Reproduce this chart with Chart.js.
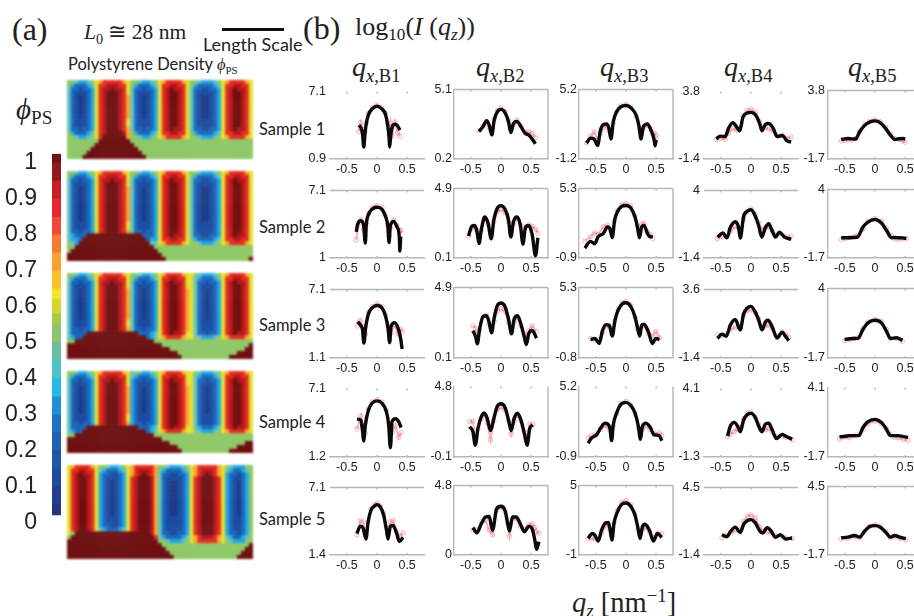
<!DOCTYPE html>
<html>
<head>
<meta charset="utf-8">
<script src="https://cdn.jsdelivr.net/npm/chart.js@4"></script>
<style>
html, body { margin: 0; background: #fff; }
#page { position: relative; width: 914px; height: 616px; overflow: hidden; background: #fff; color: #222; }
#page canvas { position: absolute; }
.txt { position: absolute; white-space: nowrap; line-height: 1; transform: translateY(-50%); }
.serif { font-family: "Liberation Serif", serif; }
.sans { font-family: Lato, sans-serif; }
.txt i { font-style: italic; }
.txt sub { font-size: 66%; vertical-align: -0.3em; line-height: 0; }
.txt sup { font-size: 66%; vertical-align: 0.5em; line-height: 0; }
#scalebar { position: absolute; left: 222px; top: 28px; width: 62px; height: 3px; background: #111; }
</style>
</head>
<body>
<div id="page">
  <div class="txt serif" style="left:12px;top:29px;font-size:32px">(a)</div>
  <div class="txt serif" style="left:84px;top:33px;font-size:21.5px"><i>L</i><sub>0</sub> ≅ 28 nm</div>
  <div id="scalebar"></div>
  <div class="txt sans" style="left:203px;top:44px;font-size:18px">Length Scale</div>
  <div class="txt serif" style="left:303px;top:28px;font-size:32px">(b)</div>
  <div class="txt serif" style="left:355px;top:27px;font-size:26px">log<sub>10</sub>(<i>I</i> (<i>q<sub>z</sub></i>))</div>
  <div class="txt sans" style="left:68px;top:65px;font-size:16.5px">Polystyrene Density <i class="serif">ϕ</i><sub class="serif">PS</sub></div>
  <div class="txt serif" style="left:16px;top:109px;font-size:29px"><i>ϕ</i><sub>PS</sub></div>
  <div class="txt serif" style="left:352px;top:67px;font-size:28px"><i>q<sub>x,</sub></i><sub>B1</sub></div>
  <div class="txt serif" style="left:476px;top:67px;font-size:28px"><i>q<sub>x,</sub></i><sub>B2</sub></div>
  <div class="txt serif" style="left:600px;top:67px;font-size:28px"><i>q<sub>x,</sub></i><sub>B3</sub></div>
  <div class="txt serif" style="left:724px;top:67px;font-size:28px"><i>q<sub>x,</sub></i><sub>B4</sub></div>
  <div class="txt serif" style="left:848px;top:67px;font-size:28px"><i>q<sub>x,</sub></i><sub>B5</sub></div>
  <div class="txt sans" style="left:259px;top:129px;font-size:16.5px">Sample 1</div>
  <div class="txt sans" style="left:259px;top:227px;font-size:16.5px">Sample 2</div>
  <div class="txt sans" style="left:259px;top:325px;font-size:16.5px">Sample 3</div>
  <div class="txt sans" style="left:259px;top:422px;font-size:16.5px">Sample 4</div>
  <div class="txt sans" style="left:259px;top:519px;font-size:16.5px">Sample 5</div>
  <div class="txt serif" style="left:572px;top:603px;font-size:28.5px"><i>q<sub>z</sub></i> [nm<sup>−1</sup>]</div>
</div>
<script>
// axis labels of the small panels, one row per sample
var yMaxLabels = [[7.1,5.1,5.2,3.8,3.8],[7.1,4.9,5.3,4,4],[7.1,4.9,5.3,3.6,4],[7.1,4.8,5.2,4.1,4.1],[7.1,4.8,5,4.5,4.5]];
var yMinLabels = [[0.9,0.2,-1.2,-1.4,-1.7],[1,0.1,-0.9,-1.4,-1.7],[1.1,0.1,-0.8,-1.4,-1.7],[1.2,-0.1,-0.9,-1.3,-1.7],[1.4,0,-1,-1.4,-1.7]];
var xTickLabels = [-0.5,0,0.5];
var colorbarTicks = [0,0.1,0.2,0.3,0.4,0.5,0.6,0.7,0.8,0.9,1];

// sample 1
var qzS1B1 = [-.30,-.27,-.24,-.22,-.20,-.18,-.14,-.08,0,.08,.14,.18,.20,.21,.225,.25,.30,.34,.38];
var fitS1B1 = [4.0,3.8,3.2,2.0,3.2,4.1,5.0,5.5,5.75,5.5,5.0,3.9,2.9,2.0,2.9,3.8,4.1,3.95,3.55];
var measS1B1 = [3.4,4.25,3.6,3.0,3.4,4.2,5.1,5.6,5.85,5.6,5.1,4.1,3.1,3.4,4.2,3.0,4.3,3.3,3.0];
var qzS1B2 = [-.365,-.298,-.24,-.197,-.152,-.112,-.062,0,.067,.124,.163,.208,.264,.33,.404,.46,.517,.573];
var fitS1B2 = [2.14,2.49,2.9,2.6,1.9,2.95,3.53,3.7,3.47,2.84,2.06,2.72,2.84,2.49,2.0,1.9,1.6,1.28];
var measS1B2 = [2.2,2.55,2.8,2.4,2.1,3.0,3.6,3.8,3.55,2.9,2.3,2.6,2.95,2.55,2.05,2.15,2.0,1.7];
var qzS1B3 = [-.656,-.589,-.528,-.472,-.422,-.367,-.322,-.283,-.25,-.211,-.156,-.089,0,.089,.167,.217,.25,.289,.356,.411,.467,.483,.5];
var fitS1B3 = [.26,.72,.63,.05,1.49,2.0,2.03,1.63,.63,2.24,3.15,3.61,3.73,3.47,2.85,1.79,.63,1.79,2.03,1.49,.57,.02,.57];
var measS1B3 = [.3,.9,1.3,.6,1.2,1.7,1.9,1.4,1.0,2.1,3.1,3.7,3.85,3.55,2.75,1.6,1.3,1.6,1.9,1.6,1.2,.9,1.0];
var qzS1B4 = [-.578,-.511,-.428,-.372,-.3,-.233,-.189,-.133,-.067,0,.072,.139,.183,.239,.294,.367,.433,.517,.6,.667];
var fitS1B4 = [.16,.36,.33,.98,1.4,1.03,.78,1.82,2.14,2.19,2.02,1.4,.78,1.27,1.33,.98,.33,.41,-.01,-.09];
var measS1B4 = [.1,.2,.1,.6,.95,.8,.9,1.9,2.35,2.45,2.2,1.5,1.0,1.0,.9,.75,.4,.45,.2,.3];
var qzS1B5 = [-.561,-.5,-.45,-.39,-.322,-.256,-.172,-.089,0,.089,.178,.256,.328,.4,.467,.5];
var fitS1B5 = [-.13,-.08,-.05,-.08,-.1,.47,1.0,1.26,1.36,1.21,.74,.21,-.13,-.07,-.05,-.1];
var measS1B5 = [-.25,-.2,-.15,-.2,-.05,.55,1.1,1.35,1.45,1.3,.85,.3,-.05,-.15,-.25,-.35];

// sample 2
var qzS2B1 = [-.344,-.32,-.267,-.222,-.194,-.178,-.14,-.083,0,.083,.14,.178,.2,.222,.278,.333,.372,.378,.394];
var fitS2B1 = [3.36,4.08,4.37,3.94,2.35,4.0,4.94,5.4,5.58,5.4,4.78,3.93,2.4,3.93,4.3,3.8,2.77,1.63,2.93];
var measS2B1 = [2.65,3.9,4.5,3.6,3.0,4.1,5.05,5.55,5.75,5.55,4.9,4.0,3.0,3.7,4.45,3.9,3.5,3.4,3.5];
var qzS2B2 = [-.539,-.483,-.438,-.4,-.365,-.326,-.27,-.213,-.163,-.118,-.062,0,.067,.124,.163,.208,.264,.32,.365,.404,.46,.517,.573,.612];
var fitS2B2 = [1.62,2.3,2.34,1.96,1.1,2.07,2.93,2.48,1.43,2.75,3.54,3.72,3.47,2.75,1.55,2.63,2.93,2.4,1.06,2.18,2.34,1.73,.26,1.5];
var measS2B2 = [1.6,2.15,2.25,2.0,1.5,2.0,2.85,2.4,1.8,2.6,3.3,3.45,3.25,2.6,1.8,2.5,2.85,2.4,1.5,2.25,2.4,2.3,2.1,1.8];
var qzS2B3 = [-.683,-.589,-.522,-.461,-.378,-.306,-.267,-.228,-.189,-.144,-.072,0,.078,.15,.189,.222,.261,.3,.356,.4,.444];
var fitS2B3 = [-.01,.58,.37,.99,1.28,1.88,1.73,.93,2.47,3.2,3.7,3.79,3.59,2.76,1.88,.9,1.88,2.0,1.28,.99,.99];
var measS2B3 = [.6,1.0,1.35,1.2,1.9,2.0,1.6,1.2,2.4,3.3,3.85,3.95,3.75,2.85,2.0,1.2,2.1,2.2,1.5,1.2,.85];
var qzS2B4 = [-.556,-.467,-.4,-.344,-.261,-.206,-.178,-.122,-.067,0,.072,.128,.178,.239,.294,.35,.406,.472,.556,.667];
var fitS2B4 = [.27,.6,.22,1.04,1.5,1.04,.19,1.94,2.33,2.46,1.94,1.17,.27,1.04,1.35,.79,.27,.66,.27,.09];
var measS2B4 = [.15,.3,.3,.7,1.1,1.0,.6,1.7,2.3,2.55,2.1,1.4,.9,1.0,1.1,.8,.45,.55,.35,.35];
var qzS2B5 = [-.561,-.49,-.422,-.35,-.283,-.2,-.117,0,.106,.189,.272,.33,.383,.45,.522];
var fitS2B5 = [-.01,-.01,-.01,0,.07,.88,1.29,1.5,1.21,.61,-.01,0,-.01,-.03,-.07];
var measS2B5 = [-.15,-.1,0,.1,.2,.7,1.35,1.6,1.35,.8,.15,-.1,-.15,-.1,-.1];

// sample 3
var qzS3B1 = [-.322,-.278,-.24,-.217,-.19,-.14,-.083,0,.083,.14,.183,.21,.233,.294,.35,.39,.417];
var fitS3B1 = [4.28,4.0,3.57,2.4,3.72,5.0,5.47,5.7,5.47,4.8,3.72,2.45,3.86,4.2,3.72,2.88,1.88];
var measS3B1 = [3.9,4.4,3.9,3.1,3.2,5.1,5.6,5.85,5.6,4.9,3.9,2.7,3.3,4.0,3.2,3.6,3.4];
var qzS3B2 = [-.466,-.42,-.393,-.354,-.298,-.24,-.197,-.157,-.112,-.062,0,.067,.124,.174,.219,.275,.33,.387,.42,.46,.517,.59];
var fitS3B2 = [1.97,1.52,1.07,2.08,2.92,2.98,2.53,1.81,2.87,3.66,3.84,3.6,2.76,1.75,2.76,2.98,2.42,1.52,1.02,1.75,1.97,1.45];
var measS3B2 = [2.3,2.1,1.6,2.0,2.95,3.0,2.4,2.0,2.6,3.3,3.45,3.25,2.5,2.0,2.55,2.85,2.3,1.7,1.6,1.95,2.3,1.9];
var qzS3B3 = [-.589,-.517,-.444,-.389,-.333,-.278,-.228,-.183,-.128,-.056,0,.078,.15,.194,.228,.261,.3,.372,.439,.494,.556];
var fitS3B3 = [.8,.89,.46,1.6,2.09,2.04,1.09,2.46,3.38,3.9,3.98,3.67,2.75,1.75,1.09,2.04,2.12,1.46,.46,.89,.8];
var measS3B3 = [.9,.75,.8,1.4,1.95,1.9,1.3,2.4,3.4,4.0,4.1,3.75,2.7,1.7,1.4,1.9,2.0,1.3,1.1,1.5,.95];
var qzS3B4 = [-.556,-.483,-.411,-.344,-.261,-.178,-.122,-.067,0,.072,.128,.183,.239,.283,.35,.433,.517,.572,.628];
var fitS3B4 = [.02,.34,.18,1.0,1.41,.65,1.83,2.23,2.37,1.95,1.36,.65,1.24,1.36,.89,.06,.49,.18,-.13];
var measS3B4 = [.3,.25,.35,.65,.85,.75,1.7,2.05,2.1,1.9,1.45,.85,.95,1.0,.75,.2,.5,.35,.1];
var qzS3B5 = [-.506,-.422,-.35,-.283,-.2,-.117,0,.106,.189,.256,.356,.456];
var fitS3B5 = [-.17,-.12,-.1,-.09,.64,1.18,1.39,1.18,.51,-.09,-.04,-.25];
var measS3B5 = [-.3,-.2,-.1,-.05,.7,1.25,1.5,1.3,.65,-.15,-.1,-.35];

// sample 4
var qzS4B1 = [-.333,-.267,-.24,-.222,-.194,-.14,-.083,0,.083,.155,.194,.222,.25,.305,.36,.4];
var fitS4B1 = [4.47,4.36,3.43,2.58,3.98,5.27,5.83,6.03,5.83,5.12,3.98,2.0,4.25,4.5,4.25,3.74];
var measS4B1 = [3.6,4.75,3.9,3.0,3.2,5.35,5.95,6.15,5.95,5.25,4.1,3.7,3.3,3.9,2.9,3.3];
var qzS4B2 = [-.522,-.466,-.427,-.382,-.326,-.28,-.23,-.174,-.118,-.062,0,.067,.124,.169,.219,.275,.33,.387,.433,.478,.528];
var fitS4B2 = [2.0,1.66,.72,1.9,2.71,2.94,2.6,1.73,2.6,3.42,3.6,3.35,2.48,1.73,2.6,2.94,2.48,1.54,.72,1.9,2.13];
var measS4B2 = [2.35,2.4,1.3,1.85,2.6,2.9,2.3,1.1,2.4,3.2,3.35,3.15,2.4,1.5,2.4,2.8,2.4,1.7,1.3,2.2,2.2];
var qzS4B3 = [-.628,-.572,-.489,-.422,-.35,-.306,-.267,-.239,-.211,-.156,-.089,0,.078,.15,.206,.239,.272,.328,.4,.467,.55,.594];
var fitS4B3 = [.29,.73,1.02,1.6,2.03,1.97,1.6,.52,1.89,2.91,3.63,3.83,3.57,2.91,1.74,.64,1.74,2.03,1.69,1.02,.96,.5];
var measS4B3 = [.75,.95,1.1,1.5,1.8,1.75,1.4,.9,1.8,2.85,3.7,3.9,3.6,2.8,1.6,1.0,1.5,1.8,1.5,1.15,1.2,.95];
var qzS4B4 = [-.389,-.344,-.278,-.222,-.178,-.122,-.056,0,.072,.128,.183,.239,.294,.35,.422,.517,.572,.683];
var fitS4B4 = [.36,1.12,1.43,1.12,.69,1.63,2.06,2.14,1.81,1.12,.69,1.3,1.37,.86,.15,.48,.36,.1];
var measS4B4 = [.3,.5,.7,.9,1.0,1.7,2.15,2.25,1.85,1.3,.8,.85,.95,.7,.3,.35,.25,.05];
var qzS4B5 = [-.589,-.5,-.422,-.34,-.267,-.2,-.117,0,.106,.189,.256,.32,.383,.47,.55];
var fitS4B5 = [-.01,.03,.08,.08,.08,.76,1.25,1.44,1.17,.62,.08,.08,.08,0,-.06];
var measS4B5 = [-.2,-.05,-.1,.05,.2,.6,1.1,1.3,1.1,.7,.2,-.05,-.1,-.25,-.3];

// sample 5
var qzS5B1 = [-.333,-.278,-.233,-.183,-.15,-.1,-.044,0,.055,.11,.155,.183,.222,.267,.322,.372,.433];
var fitS5B1 = [3.21,3.83,3.7,2.75,4.1,5.18,5.53,5.64,5.45,4.78,3.57,2.75,3.83,3.89,3.29,2.54,2.88];
var measS5B1 = [3.1,4.3,4.2,3.1,4.2,5.3,5.65,5.78,5.55,4.9,3.8,3.2,4.2,4.3,3.4,3.0,3.25];
var qzS5B2 = [-.466,-.4,-.326,-.258,-.197,-.14,-.073,0,.067,.107,.14,.191,.253,.32,.387,.46,.517,.562,.59,.63];
var fitS5B2 = [1.89,1.53,2.16,2.62,2.66,1.7,3.19,3.37,3.07,2.27,1.66,2.62,2.62,2.16,1.6,1.98,1.82,1.02,.39,.91];
var measS5B2 = [1.7,1.75,2.3,2.4,1.7,1.4,3.1,3.3,3.0,2.2,1.3,2.5,2.5,2.0,1.8,2.1,2.15,1.9,1.6,1.5];
var qzS5B3 = [-.628,-.561,-.517,-.461,-.406,-.339,-.294,-.267,-.233,-.2,-.144,-.072,0,.078,.15,.2,.233,.272,.317,.389,.456,.522,.594];
var fitS5B3 = [.43,.86,.72,.2,1.14,1.77,1.8,1.28,.28,1.71,2.71,3.37,3.49,3.2,2.43,1.28,.43,1.43,1.66,1.14,.2,.86,.51];
var measS5B3 = [.4,.45,.4,.45,.9,1.5,1.65,1.2,.7,1.8,2.85,3.55,3.7,3.35,2.5,1.2,.8,1.2,1.4,1.0,.5,.9,.85];
var qzS5B4 = [-.483,-.4,-.333,-.261,-.178,-.122,-.056,0,.072,.144,.194,.267,.333,.406,.489,.572,.683];
var fitS5B4 = [.37,.2,.71,1.04,.57,1.27,1.61,1.69,1.41,.71,.51,.99,.71,.15,.37,0,.09];
var measS5B4 = [.1,.35,.55,.7,.8,1.55,2.0,2.1,1.85,1.05,.7,.6,.5,.3,.3,.1,.05];
var qzS5B5 = [-.561,-.45,-.339,-.256,-.172,-.089,0,.089,.178,.256,.328,.411,.511];
var fitS5B5 = [-.14,-.08,.07,-.08,.46,.87,.96,.81,.37,-.08,.07,-.08,-.22];
var measS5B5 = [-.25,-.2,-.05,-.15,.4,.9,1.05,.9,.4,-.15,-.05,-.2,-.35];

// density maps: one digit per cell, digit/10 = phi_PS, a = 1.0. Repeat counts give how many rows a string covers.
var mapRows1 = [
"5543345"+"678888876"+"5543345"+"67888876"+"55433345"+"67888876",
"5322234"+"688999886"+"5322234"+"68899886"+"53222234"+"68899886",
"4221223"+"6899a9986"+"4221223"+"689a9986"+"42211223"+"689a9986",
"4211123"+"689aaa986"+"4211123"+"689aa986"+"42111123"+"689aa986",
"4210123"+"689aaa987"+"4210123"+"689aa986"+"42100123"+"689aa986",
"4211123"+"689aaa986"+"4211123"+"689aa986"+"42111123"+"689aa986",
"4221223"+"689aaa987"+"4221223"+"689a9986"+"42211223"+"689a9986",
"5322234"+"689aaaa97"+"5322234"+"68899886"+"53222234"+"68899886",
"5543345"+"68aaaaaa7"+"5543345"+"67888876"+"55433345"+"67888876",
"55555555aaaaaaaa5555555555555555555555555555555",
"5555555aaaaaaaaaa555555555555555555555555555555",
"555555aaaaaaaaaaaa55555555555555555555555555555",
"55555aaaaaaaaaaaaaa5555555555555555555555555555",
"5555aaaaaaaaaaaaaaaa555555555555555555555555555"];
var mapRepeat1 = [1,1,1,1,6,2,1,1,1,1,1,1,1,1];

var mapRows2 = [
"5543345"+"678888876"+"5543345"+"67888876"+"55433345"+"67888876",
"5322234"+"688999886"+"5322234"+"68899886"+"53222234"+"68899886",
"4221223"+"6899a9986"+"4221223"+"689a9986"+"42211223"+"689a9986",
"4211123"+"689aaa986"+"4211123"+"689aa986"+"42111123"+"689aa986",
"4210123"+"689aaa987"+"4210123"+"689aa986"+"42100123"+"689aa986",
"4211123"+"689aaa986"+"4211123"+"689aa986"+"42111123"+"689aa986",
"4221223"+"689aaa987"+"4221223"+"689aa986"+"42111123"+"689aa986",
"43222aa"+"aaaaaaaaa"+"aaa2223"+"689a9986"+"42211223"+"689a9986",
"4332aaa"+"aaaaaaaaa"+"aaaa233"+"68899886"+"53222234"+"68899886",
"543aaaa"+"aaaaaaaaa"+"aaaaa44"+"67888876"+"55433345"+"67888876",
"55aaaaaaaaaaaaaaaaaaaa5555555555555555555555555",
"5aaaaaaaaaaaaaaaaaaaaaa555555555555555555555555",
"aaaaaaaaaaaaaaaaaaaaaaaa55555555555555555555555",
"aaaaaaaaaaaaaaaaaaaaaaaaa555555555555555555555a"];
var mapRepeat2 = [1,1,1,1,9,2,1,1,1,1,1,1,1,1];

var mapRows3 = [
"5543345"+"678888876"+"5543345"+"67888876"+"65433345"+"67888876",
"5322234"+"688999886"+"5322234"+"68899886"+"64322234"+"68899886",
"4221223"+"6899a9986"+"4221223"+"689a9986"+"64221223"+"689a9986",
"4211123"+"689aaa986"+"4211123"+"689aa986"+"64211123"+"689aa986",
"4210123"+"689aaa987"+"4210123"+"689aa987"+"64210123"+"689aa986",
"4211123"+"689aaa986"+"4211123"+"689aa987"+"64211123"+"689aa986",
"4221223"+"689aaa987"+"4221223"+"689aa987"+"64211123"+"689aa986",
"42222aa"+"aaaaaaaaa"+"aa22234"+"689a9986"+"64221223"+"689a9986",
"4322aaa"+"aaaaaaaaa"+"aaaa234"+"67888876"+"65433345"+"67888876",
"55aaaaaaaaaaaaaaaaaaaa5555555555555555555555555",
"aaaaaaaaaaaaaaaaaaaaaaaa5555555555555555555555a",
"aaaaaaaaaaaaaaaaaaaaaaaaaa5555555555555555555aa",
"aaaaaaaaaaaaaaaaaaaaaaaaaaaa555555555555555aaaa",
"aaaaaaaaaaaaaaaaaaaaaaaaaaaaa555555555555aaaaaa"];
var mapRepeat3 = [1,1,1,1,8,2,1,1,1,1,1,1,1,1];

var mapRows4 = [
"5543345"+"678888876"+"4543345"+"67888876"+"65433345"+"67888876",
"5322234"+"688999886"+"4322234"+"68899886"+"64322234"+"68899886",
"4221223"+"6899a9986"+"3221223"+"689a9986"+"64221223"+"689a9986",
"4211123"+"689aaa986"+"3211123"+"689aa986"+"64211123"+"689aa986",
"4210123"+"689aaa987"+"3210123"+"689aa987"+"64210123"+"689aa986",
"4211123"+"689aaa986"+"3211123"+"689aa987"+"64211123"+"689aa986",
"4221223"+"689aaa987"+"3221223"+"689aa987"+"64211123"+"689aa986",
"42222aa"+"aaaaaaaaa"+"aa22234"+"689a9986"+"64322234"+"689a9986",
"4322aaa"+"aaaaaaaaa"+"aaaa234"+"67888876"+"65433345"+"67888876",
"55aaaaaaaaaaaaaaaaaaaa5555555555555555555555555",
"aaaaaaaaaaaaaaaaaaaaaaaa55555555555555555555555",
"aaaaaaaaaaaaaaaaaaaaaaaaaa5555555555555555555aa",
"aaaaaaaaaaaaaaaaaaaaaaaaaaaa555555555555555aaaa",
"aaaaaaaaaaaaaaaaaaaaaaaaaaaaa555555555555aaaaaa"];
var mapRepeat4 = [1,1,1,1,7,2,1,1,1,1,1,1,1,1];

var mapRows5 = [
"67888876"+"55433456"+"7888887"+"554333456"+"7888887"+"65433355",
"68899886"+"43222346"+"7899987"+"432222346"+"7899987"+"64322345",
"689a9986"+"32211236"+"789a987"+"422112236"+"789a987"+"63221235",
"689aa986"+"32111236"+"89aaa97"+"421111236"+"89aaa98"+"63211235",
"689aa986"+"32101236"+"89aaa97"+"421001236"+"89aaa98"+"63210235",
"689aa986"+"32111236"+"89aaa97"+"421111236"+"89aaa98"+"63211235",
"689aa986"+"32211236"+"89aaa97"+"421111236"+"89aaa98"+"63211235",
"689aa986"+"43222346"+"89aaa97"+"421111236"+"89aaa98"+"63211235",
"65aaaaaa"+"aaaaaaaa"+"aaaaa97"+"422112236"+"89aaa98"+"63221235",
"5aaaaaaa"+"aaaaaaaa"+"aaaaaa8"+"432222346"+"7899987"+"64322345",
"aaaaaaaa"+"aaaaaaaa"+"aaaaaaa"+"554333456"+"7888887"+"65433355",
"aaaaaaaaaaaaaaaaaaaaaaaa5555555555555555555555a",
"aaaaaaaaaaaaaaaaaaaaaaaaa55555555555555555555aa",
"aaaaaaaaaaaaaaaaaaaaaaaaaa555555555555555555aaa",
"aaaaaaaaaaaaaaaaaaaaaaaaaaa5555555555555555aaaa"];
var mapRepeat5 = [1,1,1,1,9,2,1,1,1,1,1,1,1,1,1];

var digitColors = {"0":"#1d3a87","1":"#1b4ca3","2":"#1c66b8","3":"#22a6e4","4":"#62c4c0","5":"#8fc866","6":"#e4e22c","7":"#f9a72e","8":"#e32d20","9":"#b3161b","a":"#6e1012"};

// colour bar bands, low to high
var colorbarEdges = [0.02,0.05,0.1,0.15,0.2,0.25,0.3,0.35,0.4,0.45,0.5,0.55,0.58,0.62,0.65,0.7,0.75,0.8,0.85,0.9,0.95,1.0,1.026];
var colorbarColors = ["#2a3380","#233c8e","#1f4a9f","#1f56a8","#1f63b2","#1e74c0","#1f90d6","#27b8ea","#4fc2c8","#68bfa0","#8ec46d","#a9c84a","#d3d72d","#f2e32b","#fcc02e","#f9a233","#f57a33","#ee4a35","#e7252a","#c81f26","#8f1a1e","#6b1416"];

var page = document.getElementById('page');

function addCanvas(left, top, w, h, blur) {
    var c = document.createElement('canvas');
    c.width = w;
    c.height = h;
    c.style.left = left + 'px';
    c.style.top = top + 'px';
    if (blur) c.style.filter = 'blur(' + blur + 'px)';
    page.appendChild(c);
    return c;
}

// DENSITY MAPS
var mapBoxes = [[80,159],[171,261],[273,359],[371,453],[465,559]];
var mapRowSets = [[mapRows1,mapRepeat1],[mapRows2,mapRepeat2],[mapRows3,mapRepeat3],[mapRows4,mapRepeat4],[mapRows5,mapRepeat5]];

mapRowSets.forEach(function(set, m) {
    var cells = [], r = 0;
    set[0].forEach(function(str, s) {
        for (var k = 0; k < set[1][s]; k++) {
            for (var i = 0; i < str.length; i++) {
                cells.push({x: i + 0.5, y: r + 0.5, v: str.charAt(i)});
            }
            r++;
        }
    });
    new Chart(addCanvas(67, mapBoxes[m][0], 186, mapBoxes[m][1] - mapBoxes[m][0], 1.1), {
        type: 'scatter',
        data: {datasets: [{
            data: cells,
            pointStyle: 'rect',
            pointRadius: 3.1,
            borderWidth: 0,
            backgroundColor: function(ctx) { return digitColors[ctx.raw.v]; }
        }]},
        options: {
            responsive: false, animation: false, events: [],
            plugins: {legend: {display: false}, tooltip: {enabled: false}},
            layout: {padding: 0, autoPadding: false},
            scales: {
                x: {display: false, min: 0, max: 47},
                y: {display: false, min: 0, max: r, reverse: true}
            }
        }
    });
});

// COLOUR BAR
new Chart(addCanvas(0, 125, 61, 426), {
    type: 'bar',
    data: {
        labels: ['phi'],
        datasets: colorbarColors.map(function(col, i) {
            return {data: [[colorbarEdges[i], colorbarEdges[i + 1]]], backgroundColor: col, grouped: false, barPercentage: 1, categoryPercentage: 1};
        })
    },
    options: {
        responsive: false, animation: false, events: [],
        plugins: {legend: {display: false}, tooltip: {enabled: false}},
        layout: {padding: {top: 10, bottom: 14, right: 0, left: 0}},
        scales: {
            x: {display: false},
            y: {
                min: 0, max: 1.026,
                grid: {display: false, drawTicks: false},
                border: {display: false},
                afterBuildTicks: function(s) { s.ticks = colorbarTicks.map(function(v) { return {value: v}; }); },
                afterFit: function(s) { s.width = 52; },
                ticks: {padding: 15, autoSkip: false, color: '#222', font: {family: 'Liberation Sans', size: 23}, callback: function(v) { return String(v); }}
            }
        }
    }
});

// SMALL PANELS
var panels = [
    [[qzS1B1,fitS1B1,measS1B1],[qzS1B2,fitS1B2,measS1B2],[qzS1B3,fitS1B3,measS1B3],[qzS1B4,fitS1B4,measS1B4],[qzS1B5,fitS1B5,measS1B5]],
    [[qzS2B1,fitS2B1,measS2B1],[qzS2B2,fitS2B2,measS2B2],[qzS2B3,fitS2B3,measS2B3],[qzS2B4,fitS2B4,measS2B4],[qzS2B5,fitS2B5,measS2B5]],
    [[qzS3B1,fitS3B1,measS3B1],[qzS3B2,fitS3B2,measS3B2],[qzS3B3,fitS3B3,measS3B3],[qzS3B4,fitS3B4,measS3B4],[qzS3B5,fitS3B5,measS3B5]],
    [[qzS4B1,fitS4B1,measS4B1],[qzS4B2,fitS4B2,measS4B2],[qzS4B3,fitS4B3,measS4B3],[qzS4B4,fitS4B4,measS4B4],[qzS4B5,fitS4B5,measS4B5]],
    [[qzS5B1,fitS5B1,measS5B1],[qzS5B2,fitS5B2,measS5B2],[qzS5B3,fitS5B3,measS5B3],[qzS5B4,fitS5B4,measS5B4],[qzS5B5,fitS5B5,measS5B5]]
];
var colLeft = [330,454,579,704,828];
var rowTop = [89,188,287,386,485];
var rowBottom = [159,258,358,457,555];
var labelGap = [4,2,2,4,3];
var showLeft = [false,true,true,false,true];
var showRight = [false,true,true,false,false];
var showTop = [[0,1,1,0,1],[1,1,1,1,1],[1,1,1,1,1],[0,0,0,0,0],[1,1,1,1,1]];
var lineGrey = '#b4b8bd';

// top and right edges of the box, and the little tick marks along the top
var panelFrame = {
    id: 'panelFrame',
    beforeDatasetsDraw: function(chart, args, opts) {
        var a = chart.chartArea, ctx = chart.ctx;
        ctx.save();
        ctx.strokeStyle = lineGrey;
        ctx.lineWidth = 1.4;
        ctx.beginPath();
        if (opts.top) { ctx.moveTo(a.left, a.top); ctx.lineTo(a.right, a.top); }
        if (opts.right) { ctx.moveTo(a.right, a.top); ctx.lineTo(a.right, a.bottom); }
        xTickLabels.forEach(function(v) {
            var x = chart.scales.x.getPixelForValue(v);
            ctx.moveTo(x, a.top); ctx.lineTo(x, a.top + 2);
            ctx.moveTo(x, a.bottom); ctx.lineTo(x, a.bottom - 2);
        });
        ctx.stroke();
        ctx.restore();
    }
};

panels.forEach(function(rowPanels, r) {
    rowPanels.forEach(function(p, c) {
        var h = rowBottom[r] - rowTop[r];
        var canvas = addCanvas(colLeft[c] - 34, rowTop[r] - 9, 34 + 94 + 6, 9 + h + 22, 0.35);
        new Chart(canvas, {
            type: 'scatter',
            data: {datasets: [
                {
                    data: p[0].map(function(q, i) { return {x: q, y: p[1][i]}; }),
                    showLine: true, cubicInterpolationMode: 'monotone',
                    borderColor: '#0a0a0a', borderWidth: 3.4, pointRadius: 0, order: 0
                },
                {
                    data: p[0].map(function(q, i) { return {x: q, y: p[2][i]}; }),
                    showLine: true, borderColor: 'rgba(240,110,120,0.5)', borderWidth: 2,
                    pointStyle: 'circle', pointRadius: 2.2, pointBorderWidth: 0.8,
                    pointBorderColor: 'rgba(236,90,100,0.55)', pointBackgroundColor: 'rgba(255,255,255,0)', order: 1
                }
            ]},
            options: {
                responsive: false, animation: false, events: [],
                layout: {padding: {top: 9, right: 6, left: 0, bottom: 0}},
                plugins: {
                    legend: {display: false}, tooltip: {enabled: false},
                    panelFrame: {top: !!showTop[r][c], right: showRight[c]}
                },
                scales: {
                    x: {
                        type: 'linear', min: -0.78, max: 0.78,
                        grid: {display: false, drawTicks: false},
                        border: {display: true, color: lineGrey, width: 1.4},
                        afterBuildTicks: function(s) { s.ticks = xTickLabels.map(function(v) { return {value: v}; }); },
                        afterFit: function(s) { s.height = 22; },
                        ticks: {padding: 3, autoSkip: false, maxRotation: 0, color: '#222', font: {family: 'Liberation Sans', size: 12.5}, callback: function(v) { return String(v); }}
                    },
                    y: {
                        min: yMinLabels[r][c], max: yMaxLabels[r][c],
                        grid: {display: false, drawTicks: false},
                        border: {display: showLeft[c], color: lineGrey, width: 1.4},
                        afterBuildTicks: function(s) { s.ticks = [{value: yMinLabels[r][c]}, {value: yMaxLabels[r][c]}]; },
                        afterFit: function(s) { s.width = 34; },
                        ticks: {padding: labelGap[c], autoSkip: false, color: '#222', font: {family: 'Liberation Sans', size: 12.5}, callback: function(v) { return String(v); }}
                    }
                }
            },
            plugins: [panelFrame]
        });
    });
});
</script>
</body>
</html>
